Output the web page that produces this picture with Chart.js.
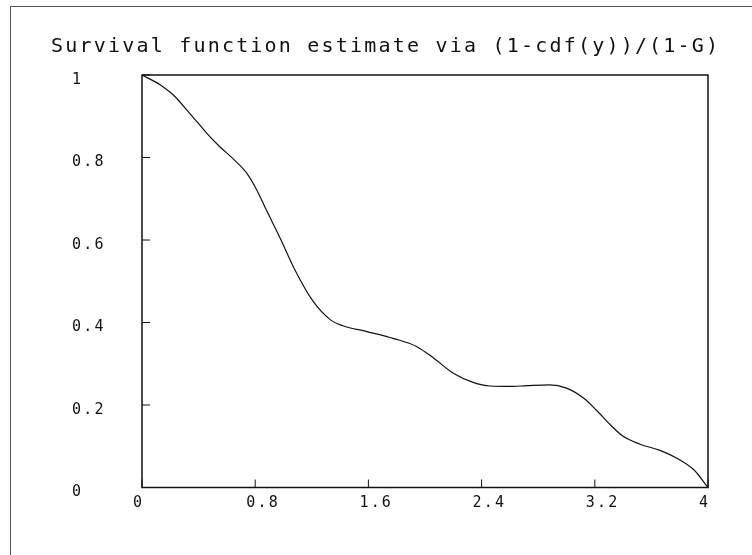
<!DOCTYPE html>
<html lang="en">
<head>
    <meta charset="UTF-8">
    <title>Survival function estimate</title>
    <script src="https://cdn.jsdelivr.net/npm/chart.js"></script>
    <style>
        body {
            margin: 0;
            padding: 0;
            background: #fff;
        }
        #wrap {
            width: 752px;
            height: 555px;
        }
    </style>
</head>
<body>
    <div id="wrap">
        <canvas id="surv-chart" width="752" height="555"></canvas>
    </div>

    <script>
        // values
        const timeX = [0, 0.13, 0.22, 0.34, 0.46, 0.55, 0.65, 0.74, 0.81, 0.88, 0.98, 1.08, 1.21, 1.33, 1.42,
            1.59, 1.78, 1.94, 2.06, 2.2, 2.34, 2.46, 2.6, 2.72, 2.88, 3.0, 3.12, 3.21, 3.31, 3.4, 3.52, 3.66, 3.78, 3.9, 4.0];
        const survY = [1, 0.976, 0.952, 0.906, 0.858, 0.826, 0.795, 0.762, 0.722, 0.672, 0.602, 0.528, 0.451, 0.407, 0.392,
            0.378, 0.361, 0.342, 0.314, 0.277, 0.255, 0.246, 0.245, 0.247, 0.249, 0.241, 0.217, 0.188, 0.152, 0.124, 0.105, 0.09, 0.071, 0.043, 0];

        const xTicks = [0, 0.8, 1.6, 2.4, 3.2, 4];
        const yTicks = [0, 0.2, 0.4, 0.6, 0.8, 1];

        const titleText = "Survival function estimate via (1-cdf(y))/(1-G)";
        const monoFont = "'DejaVu Sans Mono', monospace";

        // title (drawn here so it is not squeezed into the plot width),
        // frame around the plot, inner tick marks, outer page border
        const framePlugin = {
            id: "frame",
            beforeDraw(chart) {
                const ctx = chart.ctx;
                ctx.letterSpacing = "2.2px";
                ctx.save();
                ctx.strokeStyle = "#555";
                ctx.lineWidth = 1;
                ctx.strokeRect(10.5, 6.5, 800, 600);
                ctx.fillStyle = "#111";
                ctx.font = "normal 20px " + monoFont;
                ctx.textAlign = "left";
                ctx.textBaseline = "alphabetic";
                ctx.fillText(titleText, 51, 52);
                ctx.restore();
            },
            afterDatasetsDraw(chart) {
                const ctx = chart.ctx;
                const a = chart.chartArea;
                const xs = chart.scales.x;
                const ys = chart.scales.y;
                ctx.save();
                ctx.strokeStyle = "#111";
                ctx.lineWidth = 1.5;
                ctx.strokeRect(a.left, a.top, a.right - a.left, a.bottom - a.top);
                ctx.beginPath();
                xTicks.forEach(v => {
                    const px = xs.getPixelForValue(v);
                    ctx.moveTo(px, a.bottom);
                    ctx.lineTo(px, a.bottom - 8);
                });
                yTicks.forEach(v => {
                    const py = ys.getPixelForValue(v);
                    ctx.moveTo(a.left, py);
                    ctx.lineTo(a.left + 8, py);
                });
                ctx.lineWidth = 1;
                ctx.stroke();
                ctx.restore();
            }
        };

        const ctx = document.getElementById("surv-chart").getContext("2d");
        new Chart(ctx, {
            type: "line",
            data: {
                datasets: [{
                    label: "Survival",
                    data: timeX.map((t, i) => ({ x: t, y: survY[i] })),
                    borderColor: "#111",
                    borderWidth: 1.2,
                    pointRadius: 0,
                    fill: false,
                    cubicInterpolationMode: "monotone"
                }]
            },
            options: {
                responsive: false,
                animation: false,
                layout: {
                    padding: { left: 72, right: 44, top: 75, bottom: 0 }
                },
                plugins: {
                    legend: { display: false },
                    tooltip: { enabled: false },
                    title: { display: false }
                },
                scales: {
                    x: {
                        type: "linear",
                        min: 0,
                        max: 4,
                        grid: { display: false, drawTicks: false },
                        border: { display: false },
                        afterBuildTicks: scale => { scale.ticks = xTicks.map(v => ({ value: v })); },
                        afterFit: scale => { scale.height = 555 - 75 - 412.5; },
                        ticks: {
                            color: "#111",
                            font: { family: monoFont, size: 15, lineHeight: 1.2 },
                            align: "start",
                            labelOffset: -9,
                            padding: 7,
                            maxRotation: 0,
                            callback: v => String(v)
                        }
                    },
                    y: {
                        min: 0,
                        max: 1,
                        grid: { display: false, drawTicks: false },
                        border: { display: false },
                        afterBuildTicks: scale => { scale.ticks = yTicks.map(v => ({ value: v })); },
                        afterFit: scale => { scale.width = 70; },
                        ticks: {
                            color: "#111",
                            font: { family: monoFont, size: 15, lineHeight: 1.2 },
                            crossAlign: "far",
                            labelOffset: 5,
                            callback: v => String(v)
                        }
                    }
                }
            },
            plugins: [framePlugin]
        });
    </script>
</body>
</html>
